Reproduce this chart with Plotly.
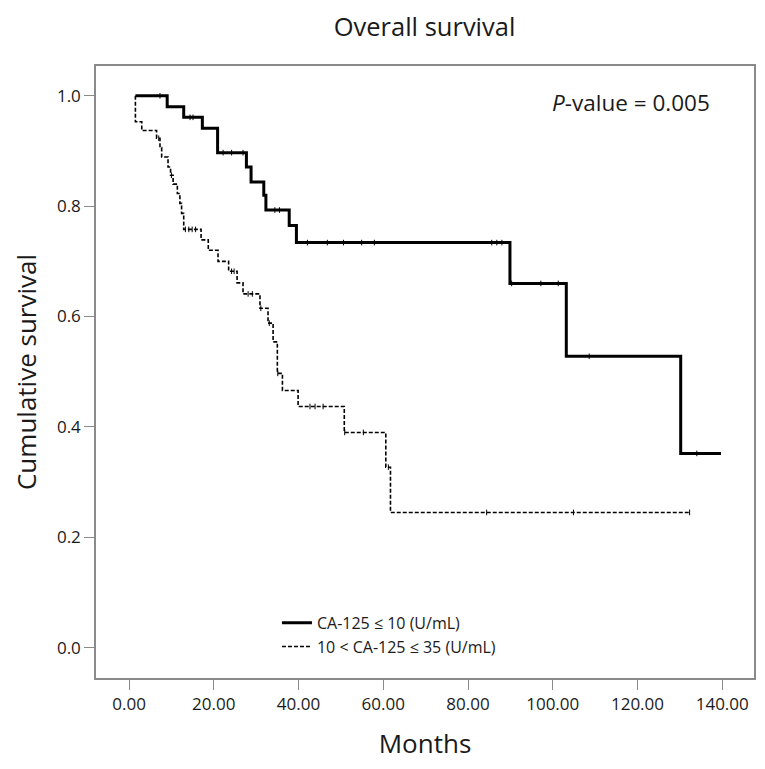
import numpy as np
import plotly.graph_objects as go

# ---- Data ----
low_label = "CA-125 ≤ 10 (U/mL)"
high_label = "10 < CA-125 ≤ 35 (U/mL)"

low_times = [1.5, 9.0, 12.9, 17.3, 20.9, 27.7, 28.8, 31.8, 32.3, 37.8, 39.5, 89.9, 103.2, 130.2, 139.7]
low_surv = [1.0, 0.980, 0.961, 0.941, 0.897, 0.871, 0.844, 0.820, 0.793, 0.765, 0.734, 0.660, 0.528, 0.352, 0.352]
low_censor = [7.3, 14.4, 15.1, 22.2, 24.2, 26.9, 34.4, 35.5, 42.1, 46.8, 50.6, 54.9, 57.9,
              85.6, 86.8, 88.0, 90.3, 97.2, 101.3, 108.6, 134.0]

high_times = [1.5, 1.5, 3.0, 6.5, 7.3, 7.7, 9.2, 9.8, 10.4, 11.4, 12.0, 12.4, 12.9, 17.0, 18.7,
              21.0, 23.5, 25.5, 26.9, 30.9, 32.8, 34.0, 35.0, 36.2, 39.9, 50.8, 60.6, 61.7, 132.3]
high_surv = [1.0, 0.953, 0.937, 0.923, 0.906, 0.889, 0.871, 0.856, 0.840, 0.823, 0.805, 0.787, 0.758,
             0.739, 0.720, 0.700, 0.682, 0.661, 0.641, 0.615, 0.588, 0.554, 0.497, 0.466, 0.437,
             0.390, 0.327, 0.245, 0.245]
high_censor = [7.0, 10.0, 13.3, 14.1, 14.9, 15.7, 24.2, 24.8, 28.1, 29.1, 31.1, 33.1, 35.1,
               42.7, 43.9, 45.8, 50.9, 55.3, 61.2, 84.4, 104.9, 132.3]

x_ticks = [0, 20, 40, 60, 80, 100, 120, 140]
y_ticks = [0.0, 0.2, 0.4, 0.6, 0.8, 1.0]

title_text = "Overall survival"
x_title = "Months"
y_title = "Cumulative survival"
p_text = "<i>P</i>-value = 0.005"


def step_value(times, surv, t):
    idx = np.searchsorted(np.array(times), t, side="right") - 1
    idx = max(idx, 0)
    return surv[idx]


FONT = "Open Sans, sans-serif"
GRAY = "#8a8a8a"
TXT = "#1a1a1a"

# page body has an 8px default margin; compensate so the plot lands where the reference has it
OFF = 8
W, H = 765 - OFF, 769 - OFF

fig = go.Figure()

fig.add_trace(go.Scatter(
    x=low_times, y=low_surv, mode="lines", line_shape="hv",
    line=dict(color="black", width=3), name=low_label,
))
fig.add_trace(go.Scatter(
    x=high_times, y=high_surv, mode="lines", line_shape="hv",
    line=dict(color="black", width=1.6, dash="4px,2px"), name=high_label,
))
fig.add_trace(go.Scatter(
    x=low_censor, y=[step_value(low_times, low_surv, t) for t in low_censor],
    mode="markers", marker=dict(symbol="line-ns", size=4, line=dict(color="black", width=1)),
    showlegend=False, hoverinfo="skip",
))
fig.add_trace(go.Scatter(
    x=high_censor, y=[step_value(high_times, high_surv, t) for t in high_censor],
    mode="markers", marker=dict(symbol="line-ns", size=4, line=dict(color="black", width=1)),
    showlegend=False, hoverinfo="skip",
))

fig.add_annotation(
    x=137.6, y=0.987, xref="x", yref="y", text=p_text, showarrow=False,
    xanchor="right", yanchor="middle", font=dict(family=FONT, size=22.5, color=TXT),
)

fig.update_layout(
    width=W, height=H,
    margin=dict(l=96 - OFF, r=11, t=66 - OFF, b=91),
    paper_bgcolor="white", plot_bgcolor="white",
    font=dict(family=FONT, color=TXT),
    title=dict(text=title_text, x=(96 + 754) / 2 / 765 - OFF / 2 / W, xanchor="center",
               y=1 - (27 - OFF) / H, yanchor="middle", font=dict(family=FONT, size=25.5, color=TXT)),
    showlegend=True,
    legend=dict(x=0.275, y=0.118, xanchor="left", yanchor="top", bgcolor="rgba(0,0,0,0)",
                font=dict(family=FONT, size=16, color=TXT), itemwidth=30, tracegroupgap=0),
)

fig.update_xaxes(
    range=[-7.8, 147.5], tickvals=x_ticks, tickformat=".2f",
    showgrid=False, zeroline=False, automargin=False,
    showline=True, mirror=True, linecolor=GRAY, linewidth=1.5,
    ticks="outside", ticklen=10, tickcolor=GRAY, tickwidth=1.2,
    tickfont=dict(family=FONT, size=17, color=TXT),
    title=dict(text=x_title, standoff=21, font=dict(family=FONT, size=26, color=TXT)),
)
fig.update_yaxes(
    range=[-0.055, 1.054], tickvals=y_ticks, tickformat=".1f",
    showgrid=False, zeroline=False, automargin=False,
    showline=True, mirror=True, linecolor=GRAY, linewidth=1.5,
    ticks="outside", ticklen=10, tickcolor=GRAY, tickwidth=1.2,
    tickfont=dict(family=FONT, size=17, color=TXT),
    title=dict(text=y_title, standoff=32, font=dict(family=FONT, size=26, color=TXT)),
)

fig.write_html("out.html")
